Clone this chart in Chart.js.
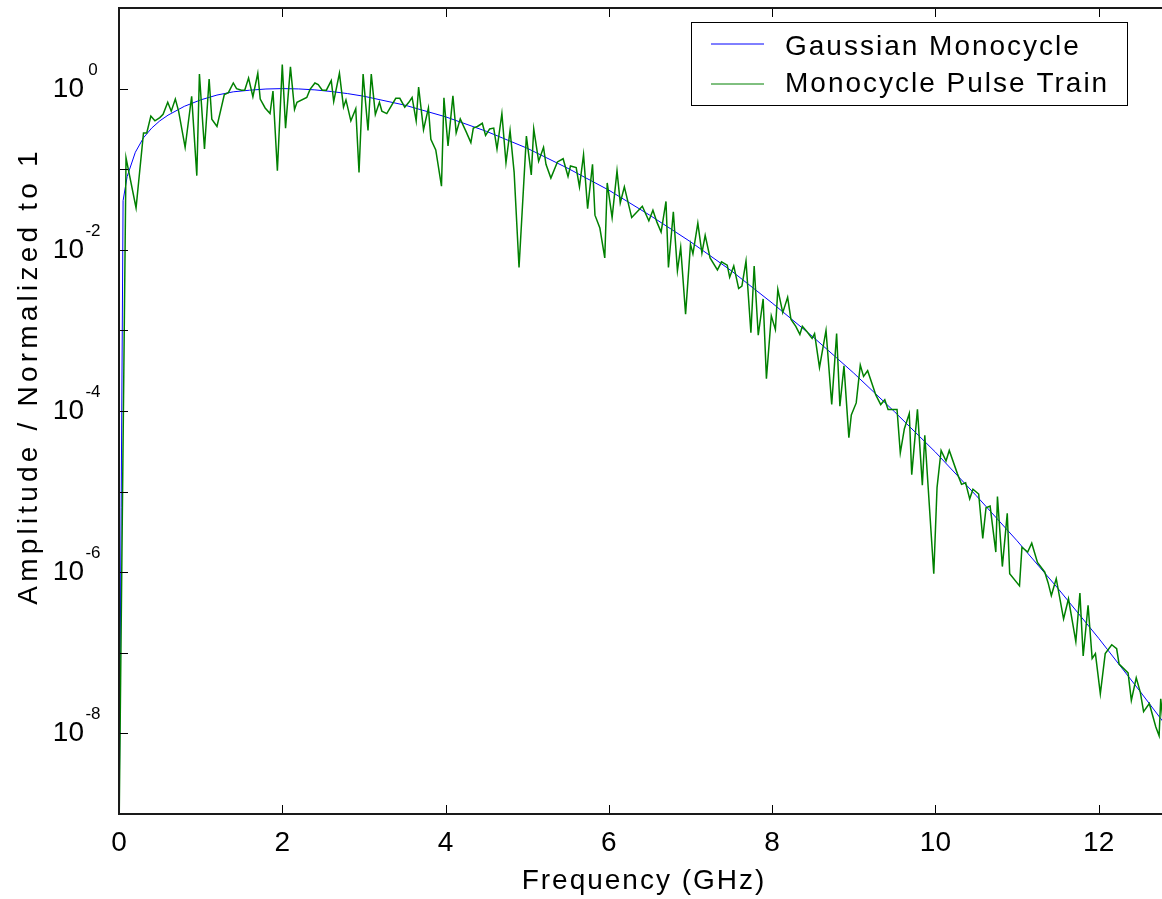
<!DOCTYPE html>
<html>
<head>
<meta charset="utf-8">
<script src="https://cdn.jsdelivr.net/npm/chart.js@4.4.0/dist/chart.umd.min.js"></script>
<style>
  html, body { margin: 0; padding: 0; background: #fff; overflow: hidden; }
  #wrap { width: 1164px; height: 899px; }
</style>
</head>
<body>
<div id="wrap"><canvas id="spectrum" width="1164" height="899"></canvas></div>
<script>
// series names (legend order)
const seriesNames = ["Gaussian Monocycle", "Monocycle Pulse Train"];

// Gaussian monocycle: frequency (GHz) and log10 of normalized amplitude
const monocycleFreq = [0, 0.05, 0.1, 0.2, 0.3, 0.4, 0.5, 0.6, 0.8, 1.0, 1.2, 1.4, 1.6, 1.8, 2.0,
  2.2, 2.4, 2.6, 2.8, 3.0, 3.5, 4.0, 4.5, 5.0, 5.5, 6.0, 6.5, 7.0, 7.5, 8.0, 8.5, 9.0, 9.5,
  10.0, 10.5, 11.0, 11.5, 12.0, 12.5, 12.8];
const monocycleExp = [-9.5, -1.39, -1.09, -0.79, -0.61, -0.49, -0.40, -0.33, -0.22, -0.14, -0.08, -0.04, -0.02, -0.005, 0,
  -0.004, -0.016, -0.036, -0.062, -0.095, -0.205, -0.35, -0.53, -0.74, -0.99, -1.26, -1.57, -1.90, -2.26, -2.66, -3.08, -3.53, -4.01,
  -4.51, -5.05, -5.61, -6.20, -6.82, -7.47, -7.87];

// Monocycle pulse train: frequency (GHz) and log10 of normalized amplitude
const trainFreq = [0, 0.086, 0.209, 0.30, 0.34, 0.39, 0.44, 0.50, 0.54, 0.597, 0.64, 0.69, 0.73, 0.81, 0.89, 0.953, 0.985,
  1.047, 1.104, 1.137, 1.20, 1.29, 1.34, 1.40, 1.44, 1.50, 1.54, 1.587, 1.64, 1.70, 1.73, 1.79, 1.85, 1.886, 1.94,
  2.00, 2.04, 2.10, 2.15, 2.18, 2.30, 2.34, 2.40, 2.44, 2.49, 2.54, 2.60, 2.63, 2.70, 2.75, 2.78, 2.84, 2.90, 2.94, 2.99,
  3.05, 3.09, 3.14, 3.19, 3.22, 3.28, 3.39, 3.44, 3.50, 3.55, 3.59, 3.64, 3.67, 3.73, 3.79, 3.82, 3.88, 3.95, 3.98,
  4.03, 4.09, 4.13, 4.18, 4.25, 4.31, 4.34, 4.39, 4.45, 4.49, 4.54, 4.59, 4.63, 4.69, 4.74, 4.79, 4.84, 4.90, 4.99,
  5.05, 5.08, 5.14, 5.20, 5.23, 5.29, 5.37, 5.44, 5.50, 5.53, 5.60, 5.64, 5.69, 5.74, 5.80, 5.83, 5.89, 5.95, 5.98,
  6.04, 6.10, 6.14, 6.19, 6.28, 6.41, 6.49, 6.54, 6.59, 6.64, 6.70, 6.73, 6.79, 6.84, 6.88, 6.94,
  7.00, 7.03, 7.09, 7.14, 7.18, 7.24, 7.33, 7.38, 7.45, 7.48, 7.53, 7.59, 7.63, 7.68, 7.74, 7.78, 7.83, 7.89, 7.93, 7.99,
  8.04, 8.07, 8.13, 8.19, 8.23, 8.29, 8.34, 8.37, 8.43, 8.49, 8.52, 8.58, 8.66, 8.73, 8.79, 8.83, 8.88, 8.94, 8.97,
  9.03, 9.08, 9.12, 9.17, 9.27, 9.33, 9.38, 9.42, 9.53, 9.57, 9.62, 9.68, 9.71, 9.78, 9.84, 9.87, 9.98,
  10.02, 10.07, 10.13, 10.17, 10.27, 10.32, 10.37, 10.42, 10.46, 10.53, 10.58, 10.62, 10.67, 10.74, 10.76, 10.82, 10.88, 10.91,
  11.03, 11.06, 11.13, 11.18, 11.25, 11.34, 11.38, 11.42, 11.48, 11.57, 11.63, 11.72, 11.77, 11.81, 11.87, 11.92, 11.96,
  12.02, 12.08, 12.16, 12.22, 12.25, 12.36, 12.40, 12.46, 12.51, 12.55, 12.62, 12.70, 12.74, 12.76, 12.80];
const trainExp = [-9.3, -0.86, -1.48, -0.55, -0.55, -0.34, -0.40, -0.36, -0.32, -0.17, -0.28, -0.13, -0.28, -0.73, -0.095, -1.08, 0.18,
  -0.75, 0.12, -0.38, -0.47, -0.074, -0.05, 0.07, 0.0, -0.02, -0.02, 0.13, -0.10, 0.19, -0.13, -0.24, -0.31, -0.03, -1.02,
  0.30, -0.49, 0.27, -0.26, -0.17, -0.11, -0.01, 0.07, 0.05, -0.02, -0.02, 0.10, -0.16, 0.19, -0.23, -0.14, -0.40, -0.25, -1.04, 0.18,
  -0.52, 0.18, -0.32, -0.17, -0.28, -0.31, -0.12, -0.12, -0.23, -0.17, -0.11, -0.40, 0.02, -0.51, -0.24, -0.63, -0.76, -1.21, -0.115,
  -0.71, -0.09, -0.55, -0.375, -0.53, -0.67, -0.49, -0.47, -0.43, -0.58, -0.50, -0.49, -0.75, -0.31, -0.92, -0.52, -1.04, -2.22, -0.59,
  -1.07, -0.50, -0.90, -0.73, -0.94, -1.11, -0.91, -0.87, -1.09, -0.96, -0.98, -1.22, -0.82, -1.49, -0.94, -1.57, -1.73, -2.10, -1.17,
  -1.60, -1.02, -1.42, -1.22, -1.60, -1.46, -1.64, -1.51, -1.66, -1.78, -1.40, -2.22, -1.53, -2.26, -1.97, -2.80,
  -1.93, -2.05, -1.67, -2.04, -1.82, -2.10, -2.25, -2.15, -2.19, -2.34, -2.20, -2.48, -2.45, -2.14, -3.03, -2.20, -3.06, -2.61, -3.60, -2.82,
  -2.99, -2.49, -2.78, -2.59, -2.86, -2.95, -3.05, -2.95, -3.02, -3.10, -3.04, -3.46, -3.00, -3.92, -3.04, -3.94, -3.44, -4.33, -4.05,
  -3.90, -3.43, -3.57, -3.50, -3.80, -3.92, -3.86, -3.98, -3.98, -4.52, -4.22, -4.03, -4.79, -3.98, -4.92, -4.30, -6.02,
  -4.95, -4.49, -4.62, -4.49, -4.78, -4.91, -4.89, -5.09, -4.97, -5.03, -5.58, -5.20, -5.18, -5.75, -5.06, -5.93, -5.27, -6.02,
  -6.17, -5.69, -5.75, -5.64, -5.88, -6.00, -6.13, -6.29, -6.08, -6.58, -6.33, -6.86, -6.26, -7.04, -6.41, -7.07, -7.01,
  -7.51, -7.01, -6.90, -6.95, -7.14, -7.25, -7.59, -7.31, -7.49, -7.73, -7.63, -7.92, -8.03, -7.57, -7.98];

// axis ticks
const xTicks = [0, 2, 4, 6, 8, 10, 12];
const yLabelExp = [0, -2, -4, -6, -8];
const yTickExp = [1, 0, -1, -2, -3, -4, -5, -6, -7, -8, -9];

const monoPoints = monocycleFreq.map((f, i) => ({ x: f, y: Math.pow(10, monocycleExp[i]) }));
const trainPoints = trainFreq.map((f, i) => ({ x: f, y: Math.pow(10, trainExp[i]) }));

const FONT = '"Liberation Sans", Arial, sans-serif';

// box, inward ticks, labels and legend drawn MATLAB style
const framePlugin = {
  id: 'matlabFrame',
  afterDraw(chart) {
    const ctx = chart.ctx;
    const a = chart.chartArea;
    const xs = chart.scales.x;
    const ys = chart.scales.y;
    const tickLen = 9;
    ctx.save();

    // ticks (bottom, top, left)
    ctx.strokeStyle = '#000';
    ctx.lineWidth = 1;
    ctx.beginPath();
    xTicks.forEach(v => {
      const px = Math.round(xs.getPixelForValue(v)) + 0.5;
      ctx.moveTo(px, a.bottom); ctx.lineTo(px, a.bottom - tickLen);
      ctx.moveTo(px, a.top); ctx.lineTo(px, a.top + tickLen);
    });
    yTickExp.forEach(e => {
      const py = Math.round(ys.getPixelForValue(Math.pow(10, e))) + 0.5;
      ctx.moveTo(a.left, py); ctx.lineTo(a.left + tickLen, py);
    });
    ctx.stroke();

    // frame
    ctx.strokeStyle = '#1a1a1a';
    ctx.lineWidth = 2;
    ctx.strokeRect(a.left, a.top, a.right - a.left, a.bottom - a.top);

    // x tick labels
    ctx.fillStyle = '#000';
    ctx.font = '28px ' + FONT;
    ctx.textAlign = 'center';
    ctx.textBaseline = 'alphabetic';
    xTicks.forEach(v => {
      ctx.fillText(String(v), xs.getPixelForValue(v), 851);
    });

    // y tick labels 10^n
    yLabelExp.forEach(e => {
      const py = ys.getPixelForValue(Math.pow(10, e));
      ctx.font = '28px ' + FONT;
      ctx.textAlign = 'right';
      ctx.fillText('10', 84, py + 8);
      ctx.font = '17px ' + FONT;
      ctx.textAlign = 'center';
      ctx.fillText(e === 0 ? '0' : '-' + Math.abs(e), 93, py - 14);
    });

    // axis titles
    ctx.font = '28px ' + FONT;
    ctx.letterSpacing = '2px';
    ctx.textAlign = 'center';
    ctx.fillText('Frequency (GHz)', 644, 889);
    ctx.save();
    ctx.letterSpacing = '4.2px';
    ctx.translate(37, 376);
    ctx.rotate(-Math.PI / 2);
    ctx.fillText('Amplitude / Normalized to 1', 0, 0);
    ctx.restore();

    // legend
    const lx = 691, ly = 22, lw = 436, lh = 83;
    ctx.fillStyle = '#fff';
    ctx.fillRect(lx, ly, lw, lh);
    ctx.strokeStyle = '#000';
    ctx.lineWidth = 1;
    ctx.strokeRect(lx + 0.5, ly + 0.5, lw, lh);
    const ds = chart.data.datasets;
    [44, 84].forEach((yy, i) => {
      ctx.strokeStyle = ds[i].borderColor;
      ctx.lineWidth = 1;
      ctx.beginPath();
      ctx.moveTo(711, yy); ctx.lineTo(764, yy);
      ctx.stroke();
    });
    ctx.fillStyle = '#000';
    ctx.textAlign = 'left';
    ctx.fillText(ds[0].label, 785, 55);
    ctx.fillText(ds[1].label, 785, 92);
    ctx.restore();
  }
};

new Chart(document.getElementById('spectrum'), {
  type: 'line',
  data: {
    datasets: [
      { label: seriesNames[0], data: monoPoints, borderColor: '#0000ff', borderWidth: 1, pointRadius: 0, tension: 0, order: 1 },
      { label: seriesNames[1], data: trainPoints, borderColor: '#008000', borderWidth: 1.5, pointRadius: 0, tension: 0, order: 0 }
    ]
  },
  options: {
    responsive: false,
    animation: false,
    devicePixelRatio: 1,
    layout: { padding: { top: 8, right: 0, left: 0, bottom: 0 } },
    plugins: { legend: { display: false }, tooltip: { enabled: false } },
    scales: {
      x: {
        type: 'linear', min: 0, max: 12.8,
        grid: { display: false }, border: { display: false }, ticks: { display: false },
        afterFit: s => { s.height = 85; }
      },
      y: {
        type: 'logarithmic', min: 1e-9, max: 10,
        grid: { display: false }, border: { display: false }, ticks: { display: false },
        afterFit: s => { s.width = 119; }
      }
    }
  },
  plugins: [framePlugin]
});
</script>
</body>
</html>
